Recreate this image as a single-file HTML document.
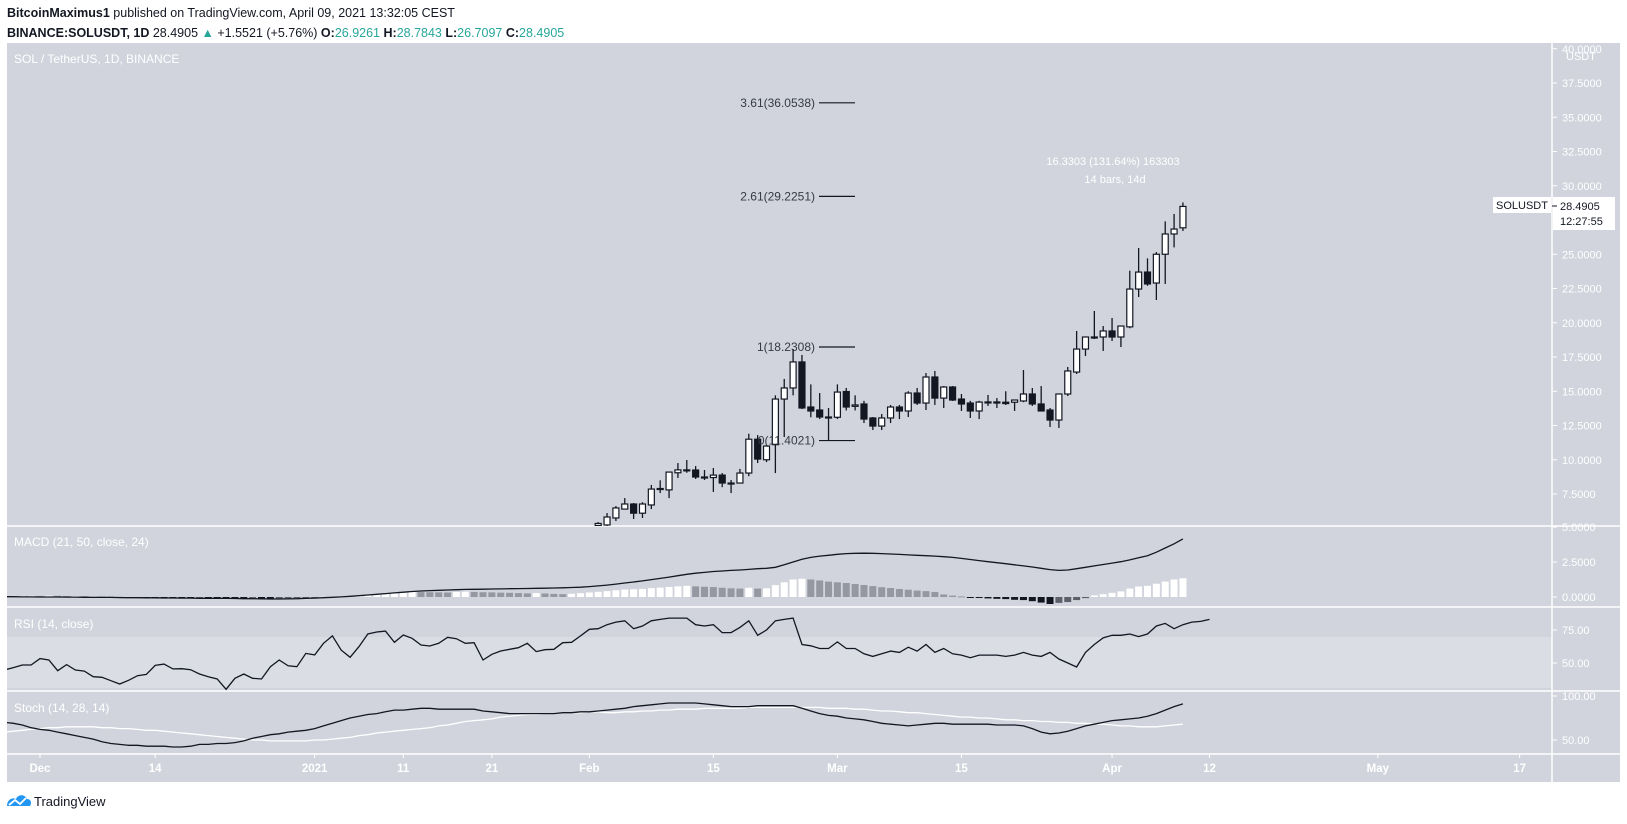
<!DOCTYPE html>
<html><head><meta charset="utf-8"><style>
body{margin:0;background:#fff;width:1627px;height:819px;overflow:hidden;font-family:"Liberation Sans",sans-serif}
svg text{font-family:"Liberation Sans",sans-serif}
</style></head><body>
<svg id="chart" width="1627" height="819" xmlns="http://www.w3.org/2000/svg">
<text x="7" y="17" font-size="12.5" fill="#131722"><tspan font-weight="bold">BitcoinMaximus1</tspan> published on TradingView.com, April 09, 2021 13:32:05 CEST</text>
<text x="7" y="37" font-size="12.5" fill="#131722"><tspan font-weight="bold">BINANCE:SOLUSDT, 1D</tspan> 28.4905 <tspan fill="#26a69a">▲</tspan> +1.5521 (+5.76%) <tspan font-weight="bold">O:</tspan><tspan fill="#26a69a">26.9261</tspan> <tspan font-weight="bold">H:</tspan><tspan fill="#26a69a">28.7843</tspan> <tspan font-weight="bold">L:</tspan><tspan fill="#26a69a">26.7097</tspan> <tspan font-weight="bold">C:</tspan><tspan fill="#26a69a">28.4905</tspan></text>
<rect x="7" y="43" width="1613" height="739" fill="#d1d4dc"/>
<rect x="7" y="637" width="1545" height="51" fill="#dadde4"/>
<defs>
<clipPath id="cMain"><rect x="7" y="43" width="1545" height="483"/></clipPath>
<clipPath id="cMacd"><rect x="7" y="527" width="1545" height="80"/></clipPath>
<clipPath id="cRsi"><rect x="7" y="608" width="1545" height="83"/></clipPath>
<clipPath id="cSto"><rect x="7" y="692" width="1545" height="62"/></clipPath>
<clipPath id="cAxis"><rect x="1553" y="43" width="67" height="711"/></clipPath>
</defs>
<g id="dividers" stroke="#fff" stroke-width="1.5">
<line x1="7" y1="526" x2="1620" y2="526"/><line x1="7" y1="607" x2="1620" y2="607"/>
<line x1="7" y1="691" x2="1620" y2="691"/><line x1="7" y1="754" x2="1620" y2="754"/>
<line x1="1552" y1="43" x2="1552" y2="782"/>
</g>
<text x="14" y="63" font-size="12" fill="#fff">SOL / TetherUS, 1D, BINANCE</text>
<text x="14" y="546" font-size="12" fill="#fff">MACD (21, 50, close, 24)</text>
<text x="14" y="628" font-size="12" fill="#fff">RSI (14, close)</text>
<text x="14" y="712" font-size="12" fill="#fff">Stoch (14, 28, 14)</text>
<g id="main" clip-path="url(#cMain)"></g>
<g id="macd" clip-path="url(#cMacd)"></g>
<g id="rsi" clip-path="url(#cRsi)"></g>
<g id="sto" clip-path="url(#cSto)"></g>
<g id="axis" clip-path="url(#cAxis)"></g>
<g id="taxis"></g>
<g id="fib"></g>
<text x="1113" y="165" font-size="11" fill="#fff" text-anchor="middle">16.3303 (131.64%) 163303</text>
<text x="1115" y="183" font-size="11" fill="#fff" text-anchor="middle">14 bars, 14d</text>
<rect x="1493" y="197" width="58" height="16" fill="#fff"/>
<text x="1522" y="209" font-size="11" fill="#131722" text-anchor="middle">SOLUSDT</text>
<rect x="1553" y="197" width="62" height="33" fill="#fff"/>
<line x1="1552" y1="206" x2="1557" y2="206" stroke="#131722"/>
<text x="1560" y="210" font-size="11" fill="#131722">28.4905</text>
<text x="1560" y="225" font-size="11" fill="#131722">12:27:55</text>
<text x="1566" y="60" font-size="11" fill="#fff">USDT</text>
<g>
<path d="M7 806 C7 800 12 797 16 799 C18 794 25 794 27 799 C31 799 32 803 30 806 Z" fill="#2196f3"/>
<polyline points="9,805 15,800 20,804 26,798" fill="none" stroke="#fff" stroke-width="1.8"/>
<text x="34" y="806" font-size="13" fill="#131722">TradingView</text>
</g>
</svg>
<script>
// ---- data ----
const candleStartDay = 63; // days since Dec 1 2020 (Feb 2)
const openP  = [5.2,5.24,5.75,6.4,6.77,6.1,6.7,7.86,7.8,9.05,9.26,9.25,8.74,8.7,8.88,8.3,8.3,9.03,11.5,10.0,11.1,14.43,15.24,17.14,13.85,13.63,13.12,13.1,14.98,13.9,14.07,13.05,12.46,13.05,13.85,13.56,14.87,14.14,16.04,14.5,15.31,14.43,14.14,13.56,14.2,14.22,14.2,14.2,14.29,14.8,14.07,13.63,12.9,14.8,16.4,18.08,18.9,18.96,19.4,18.96,19.7,22.46,23.7,22.9,25.0,26.48,26.93];
const highP  = [5.45,6.11,6.62,7.2,6.84,6.9,8.16,8.5,9.1,9.76,9.98,9.54,9.25,9.4,9.03,8.52,9.33,11.9,11.8,11.1,14.7,15.9,18.08,17.65,15.5,14.87,13.78,15.5,15.24,14.7,14.3,13.12,13.34,14.0,14.0,15.0,15.24,16.33,16.48,15.38,15.38,14.8,14.3,14.3,14.73,14.5,15.0,14.4,16.55,15.24,15.38,13.78,14.8,16.77,19.4,19.0,20.86,19.76,20.35,19.8,23.8,25.46,24.7,25.16,27.4,27.94,28.78];
const lowP   = [5.15,5.0,5.53,6.4,5.68,5.75,6.4,7.57,7.2,8.67,9.05,8.6,8.52,7.65,8.0,7.57,8.3,8.8,9.76,9.83,9.03,11.66,14.7,13.7,13.1,12.97,11.44,12.97,13.6,13.6,12.68,12.17,12.17,12.68,12.97,13.12,14.0,13.63,14.0,13.78,14.29,13.56,13.05,12.97,13.93,13.78,14.0,13.56,14.2,13.93,13.56,12.39,12.32,14.65,16.26,17.57,18.81,17.94,18.67,18.23,19.6,21.88,22.7,21.66,22.83,25.5,26.7];
const closeP = [5.35,5.82,6.48,6.77,6.1,6.77,7.86,7.9,9.1,9.26,9.24,8.74,8.7,8.88,8.3,8.3,9.03,11.5,10.05,11.0,14.43,15.24,17.14,13.78,13.56,13.12,13.1,14.94,13.85,14.0,12.97,12.46,13.05,13.85,13.56,14.87,14.14,16.04,14.5,15.31,14.36,14.07,13.56,14.21,14.22,14.14,14.1,14.36,14.8,14.07,13.56,12.9,14.8,16.48,18.08,18.96,18.96,19.4,18.96,19.76,22.46,23.7,22.83,25.0,26.48,26.84,28.49];
const indStartDay = -4; // Nov 27
const macdLine = [0.02,0.02,0.01,0.01,0.0,0.0,0.0,-0.01,-0.01,-0.02,-0.02,-0.03,-0.03,-0.04,-0.05,-0.05,-0.06,-0.06,-0.07,-0.07,-0.08,-0.08,-0.09,-0.09,-0.1,-0.1,-0.11,-0.12,-0.12,-0.13,-0.14,-0.14,-0.13,-0.12,-0.1,-0.08,-0.05,-0.02,0.01,0.05,0.09,0.14,0.19,0.24,0.29,0.34,0.39,0.43,0.46,0.48,0.5,0.52,0.54,0.55,0.56,0.57,0.58,0.59,0.6,0.61,0.62,0.63,0.64,0.66,0.68,0.7,0.74,0.79,0.85,0.92,1.0,1.07,1.15,1.24,1.33,1.42,1.52,1.62,1.7,1.76,1.82,1.86,1.9,1.93,1.97,2.02,2.05,2.12,2.3,2.5,2.7,2.83,2.92,2.98,3.05,3.1,3.12,3.13,3.12,3.1,3.07,3.04,3.01,2.98,2.95,2.92,2.88,2.83,2.76,2.68,2.6,2.52,2.45,2.38,2.3,2.22,2.14,2.05,1.96,1.9,1.93,2.02,2.12,2.22,2.32,2.42,2.52,2.65,2.8,2.95,3.2,3.5,3.8,4.15];
const macdHist = [0.08,0.08,0.08,0.09,0.07,0.1,0.08,0.07,0.07,0.06,0.06,0.04,0.03,0.02,-0.02,-0.03,-0.04,-0.05,-0.06,-0.06,-0.07,-0.07,-0.06,-0.06,-0.07,-0.08,-0.09,-0.1,-0.09,-0.11,-0.12,-0.1,-0.07,-0.05,-0.04,-0.02,0.01,0.03,0.05,0.08,0.1,0.13,0.16,0.2,0.25,0.3,0.36,0.35,0.34,0.33,0.32,0.36,0.38,0.36,0.34,0.33,0.31,0.3,0.28,0.26,0.28,0.25,0.22,0.2,0.23,0.27,0.32,0.37,0.42,0.48,0.53,0.55,0.58,0.63,0.67,0.72,0.76,0.8,0.76,0.73,0.71,0.66,0.62,0.6,0.66,0.6,0.62,0.85,1.05,1.25,1.3,1.25,1.18,1.1,1.05,1.0,0.93,0.86,0.78,0.7,0.64,0.57,0.52,0.46,0.42,0.36,0.18,0.1,0.04,-0.04,-0.07,-0.1,-0.13,-0.15,-0.2,-0.22,-0.3,-0.4,-0.5,-0.42,-0.36,-0.22,-0.08,0.12,0.2,0.3,0.4,0.6,0.75,0.8,0.95,1.1,1.25,1.34];
const rsiVals = [44.7,46.5,48.5,48.5,53.3,52.3,44.2,48.8,44.7,43.9,39.6,39.2,36.6,34.1,36.9,40.4,41.4,48.2,49.2,45.5,45.7,44.9,41.7,39.6,37.9,30.1,38.4,41.7,38.4,37.9,47.2,52.3,47.9,47.2,57.3,56.1,64.9,70.5,59.8,54.3,62.4,72,73.5,74.2,65.7,71.2,68.7,63.6,62.9,64.9,69.5,68.4,64.9,65.4,52.3,56.6,59.1,60.4,61.6,64.9,58.6,60.1,60.4,65.4,65.7,70.5,75.5,76,79,81,82,76,78,82,83,84,84,84,79,78,79,73,73,77,82,71,75,82,83,84,64,63,61,61,66,61,61,57,55,57,59,58,62,59,64,58,61,57,56,54,56,56,56,55,56,58,56,55,58,53,50,47,58,64,69,71,71,72,70,72,78,80,76,79,81,81.5,83];
const stochK = [70,69,67,64,62,61,59,57,55,53,51,48,46,45,44,44,43,43,43,42,42,43,45,45,46,46,47,49,52,54,56,57,59,60,61,63,66,69,72,75,77,79,80,82,84,84,85,86,86,85,85,85,85,85,83,82,81,80,80,80,80,80,80,81,81,82,82,83,84,85,86,88,89,90,91,92,92,92,92,91,90,89,88,88,88,89,89,89,89,89,86,83,80,78,77,75,74,73,71,69,68,67,66,67,68,69,69,68,68,68,68,68,67,67,67,66,63,59,57,58,60,63,66,68,70,72,73,74,75,77,80,84,88,91];
const stochD = [59,60,61,62,63,64,64,65,65,65,65,64,64,63,63,62,61,61,60,59,58,57,56,55,54,53,52,51,50,50,49,49,49,49,49,50,50,51,52,53,55,56,58,59,60,61,62,63,64,66,67,69,71,72,73,74,76,77,78,79,79,80,80,81,81,81,82,82,81,81,82,82,83,83,84,84,85,85,85,86,86,86,86,86,87,87,87,87,87,87,87,87,87,86,86,86,85,85,84,83,83,82,81,81,80,79,78,77,76,76,75,75,74,73,73,72,72,71,71,70,70,69,69,68,68,67,66,66,65,65,65,66,67,68];
const priceTicks = [40,37.5,35,32.5,30,25,22.5,20,17.5,15,12.5,10,7.5];
const priceTickLabels = ["40.0000","37.5000","35.0000","32.5000","30.0000","25.0000","22.5000","20.0000","17.5000","15.0000","12.5000","10.0000","7.5000"];
const macdTicks = [5,2.5,0];
const macdTickLabels = ["5.0000","2.5000","0.0000"];
const rsiTicks = [75,50];
const rsiTickLabels = ["75.00","50.00"];
const stochTicks = [100,50];
const stochTickLabels = ["100.00","50.00"];
const timeTickDays = [0,13,31,41,51,62,76,90,104,121,132,151,167];
const timeTickLabels = ["Dec","14","2021","11","21","Feb","15","Mar","15","Apr","12","May","17"];
const fibValues = [36.0538,29.2251,18.2308,11.4021];
const fibLabels = ["3.61(36.0538)","2.61(29.2251)","1(18.2308)","0(11.4021)"];

// ---- scales ----
const NS='http://www.w3.org/2000/svg';
const xDay = d => 40 + d*8.86;
const yPrice = p => 357 - (p-17.5)*13.7;
const yMacd = v => 597 - v*14;
const yRsi = v => 663 - (v-50)*1.32;
const ySto = v => 740 - (v-50)*0.88;
function mk(tag, attrs, parent){const e=document.createElementNS(NS,tag);for(const k in attrs)e.setAttribute(k,attrs[k]);parent.appendChild(e);return e;}
const gMain=document.getElementById('main'), gMacd=document.getElementById('macd'), gRsi=document.getElementById('rsi'), gSto=document.getElementById('sto'), gAxis=document.getElementById('axis'), gT=document.getElementById('taxis'), gFib=document.getElementById('fib');

// candles
for(let i=0;i<openP.length;i++){
  const x=xDay(candleStartDay+i), o=openP[i], c=closeP[i], up=c>=o;
  const w=mk('line',{x1:x,x2:x,y1:yPrice(highP[i]),y2:yPrice(lowP[i]),stroke:'#131722','stroke-width':1.3},gMain);
  
  
  const top=yPrice(Math.max(o,c)), bot=yPrice(Math.min(o,c));
  const b=mk('rect',{x:x-3,y:top,width:6,height:Math.max(bot-top,1),fill:up?'#fff':'#131722',stroke:'#131722','stroke-width':1.2},gMain);
  
  
}
// macd histogram
for(let i=0;i<macdHist.length;i++){
  const v=macdHist[i], pv=i>0?macdHist[i-1]:v, x=xDay(indStartDay+i);
  let col; if(v>=0) col = v>=pv ? '#ffffff' : '#9598a1'; else col = v<=pv ? '#131722' : '#5d606b';
  const y0=yMacd(0), y1=yMacd(v);
  const r=mk('rect',{x:x-3.5,y:Math.min(y0,y1),width:7,height:Math.max(Math.abs(y1-y0),1),fill:col},gMacd);
  
  
}
function line(arr, yf, parent, color, name, w){
  const pts=arr.map((v,i)=>xDay(indStartDay+i).toFixed(1)+','+yf(v).toFixed(1)).join(' ');
  const p=mk('polyline',{points:pts,fill:'none',stroke:color,'stroke-width':w||1.3},parent);
  
  
}
line(macdLine,yMacd,gMacd,'#131722','macd-line');
line(rsiVals,yRsi,gRsi,'#131722','rsi-line');
line(stochD,ySto,gSto,'#ffffff','stoch-d-line');
line(stochK,ySto,gSto,'#131722','stoch-k-line');

// axis ticks
function ticks(vals,labels,yf){
  vals.forEach((v,i)=>{const y=yf(v);
    const t=mk('line',{x1:1552,x2:1557,y1:y,y2:y,stroke:'#fff'},gAxis);
    
    
    const tx=mk('text',{x:1562,y:y+4,'font-size':11,fill:'#fff'},gAxis);
    tx.textContent=labels[i];
    
    
  });
}
ticks(priceTicks,priceTickLabels,yPrice);
ticks(macdTicks,macdTickLabels,yMacd);
ticks(rsiTicks,rsiTickLabels,yRsi);
ticks(stochTicks,stochTickLabels,ySto);
timeTickDays.forEach((d,i)=>{const x=xDay(d);
  const t=mk('line',{x1:x,x2:x,y1:754,y2:758,stroke:'#fff'},gT);
  
  
  const tx=mk('text',{x:x,y:772,'font-size':11.5,'font-weight':'bold',fill:'#fff','text-anchor':'middle'},gT);
  tx.textContent=timeTickLabels[i];
  
  
});
// fib levels
fibValues.forEach((v,i)=>{const y=yPrice(v);
  const l=mk('line',{x1:819,x2:855,y1:y,y2:y,stroke:'#131722','stroke-width':1.2},gFib);
  
  
  const t=mk('text',{x:815,y:y+4,'font-size':12,fill:'#363a45','text-anchor':'end'},gFib);
  t.textContent=fibLabels[i];
  
  
});
</script>
</body></html>
